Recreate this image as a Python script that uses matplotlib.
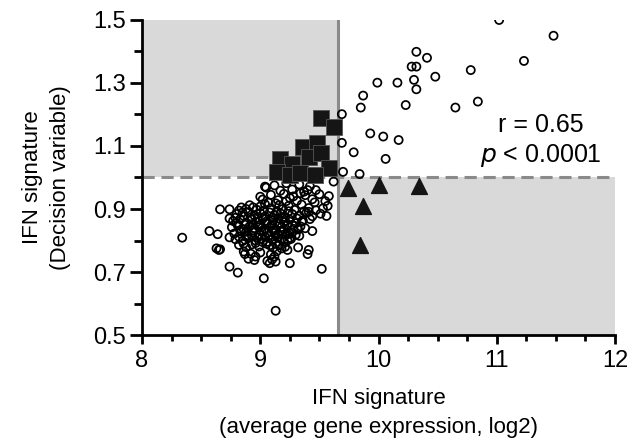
import matplotlib
matplotlib.use("Agg")
import matplotlib.pyplot as plt
from matplotlib.ticker import MultipleLocator

plt.rcParams['font.family'] = ['Liberation Sans', 'DejaVu Sans']

# ---- data ----
circ_pts = [
    # upper-right scatter
    (11.02, 1.500), (11.48, 1.450), (11.23, 1.370), (10.32, 1.399), (10.41, 1.380),
    (10.28, 1.352), (10.32, 1.352), (10.78, 1.341), (10.48, 1.320), (10.30, 1.310),
    (9.99, 1.301), (10.16, 1.301), (10.32, 1.280), (9.87, 1.260), (9.85, 1.222),
    (10.23, 1.230), (10.65, 1.222), (10.84, 1.241), (9.69, 1.201), (9.93, 1.140),
    (10.04, 1.130), (10.17, 1.119), (9.69, 1.110), (9.79, 1.080), (10.06, 1.059),
    (9.70, 1.018), (9.84, 1.011), (9.62, 0.987),
    # outliers around cluster
    (8.34, 0.809), (8.57, 0.830), (8.64, 0.820), (8.63, 0.775), (8.65, 0.770),
    (8.66, 0.772), (8.74, 0.717), (8.81, 0.698), (9.03, 0.680), (9.13, 0.577),
    (9.52, 0.710), (9.25, 0.728), (9.08, 0.728), (9.06, 0.735), (9.12, 0.749),
    (8.96, 0.749), (8.87, 0.757), (9.23, 0.770), (9.32, 0.778), (9.41, 0.770),
    (9.40, 0.757), (9.44, 0.830), (9.38, 0.839), (8.66, 0.899), (8.74, 0.899),
    (9.00, 0.939), (9.04, 0.971), (9.46, 0.921), (9.53, 0.902), (9.56, 0.878),
    (9.58, 0.941), (8.74, 0.870), (8.74, 0.810), (9.25, 0.808), (9.35, 0.860),
    (9.41, 0.891), (9.19, 0.828),
    # dense cluster
    (9.05, 0.968), (9.12, 0.975), (9.17, 0.958), (9.22, 0.982), (9.27, 0.962),
    (9.33, 0.978), (9.37, 0.955), (9.42, 0.972), (9.47, 0.960),
    (9.02, 0.930), (9.09, 0.945), (9.15, 0.928), (9.20, 0.948), (9.25, 0.935),
    (9.31, 0.926), (9.38, 0.944), (9.44, 0.931), (9.50, 0.947), (9.55, 0.925),
    (8.84, 0.905), (8.91, 0.912), (8.97, 0.898), (9.04, 0.915), (9.09, 0.902),
    (9.13, 0.918), (9.19, 0.900), (9.24, 0.910), (9.29, 0.897), (9.35, 0.914),
    (9.41, 0.903), (9.47, 0.896), (9.57, 0.910),
    (8.80, 0.884), (8.86, 0.878), (8.90, 0.890), (8.95, 0.880), (9.00, 0.887),
    (9.04, 0.876), (9.08, 0.889), (9.12, 0.881), (9.17, 0.886), (9.21, 0.875),
    (9.27, 0.884), (9.33, 0.879), (9.39, 0.888), (9.44, 0.877), (9.51, 0.885),
    (8.77, 0.862), (8.83, 0.868), (8.88, 0.857), (8.93, 0.866), (8.97, 0.859),
    (9.02, 0.869), (9.06, 0.856), (9.11, 0.864), (9.15, 0.870), (9.20, 0.858),
    (9.25, 0.866), (9.30, 0.855), (9.36, 0.863), (9.42, 0.868),
    (8.76, 0.842), (8.81, 0.848), (8.86, 0.836), (8.91, 0.845), (8.95, 0.839),
    (9.00, 0.850), (9.04, 0.838), (9.09, 0.846), (9.13, 0.835), (9.18, 0.843),
    (9.23, 0.849), (9.28, 0.837), (9.34, 0.845),
    (8.78, 0.822), (8.84, 0.828), (8.89, 0.817), (8.94, 0.826), (8.99, 0.819),
    (9.03, 0.829), (9.08, 0.816), (9.12, 0.824), (9.17, 0.830), (9.22, 0.818),
    (9.27, 0.826), (9.33, 0.815),
    (8.79, 0.804), (8.85, 0.798), (8.90, 0.808), (8.96, 0.800), (9.01, 0.806),
    (9.06, 0.796), (9.10, 0.803), (9.15, 0.809), (9.20, 0.797), (9.26, 0.805),
    (8.82, 0.786), (8.88, 0.779), (8.93, 0.788), (8.99, 0.781), (9.05, 0.790),
    (9.11, 0.777), (9.16, 0.785), (9.21, 0.780),
    (8.86, 0.765), (8.92, 0.758), (9.00, 0.762), (9.09, 0.756), (9.14, 0.766),
    (8.90, 0.742), (8.95, 0.738), (9.10, 0.740), (9.13, 0.733),
    (8.82, 0.895), (8.88, 0.900), (8.94, 0.905), (9.00, 0.908), (9.07, 0.920),
    (9.16, 0.912), (9.22, 0.925), (9.28, 0.940), (9.34, 0.950), (9.40, 0.960),
    (8.79, 0.872), (8.85, 0.889), (8.92, 0.873), (8.98, 0.872), (9.03, 0.895),
    (9.10, 0.872), (9.14, 0.893), (9.19, 0.870), (9.24, 0.893), (9.31, 0.870),
    (9.37, 0.893),
    (8.80, 0.855), (8.87, 0.850), (8.93, 0.852), (8.99, 0.842), (9.05, 0.860),
    (9.10, 0.852), (9.16, 0.855), (9.21, 0.862), (9.27, 0.850), (9.32, 0.835),
    (8.83, 0.832), (8.88, 0.828), (8.94, 0.833), (9.01, 0.830), (9.06, 0.826),
    (9.11, 0.833), (9.15, 0.820), (9.20, 0.835), (9.25, 0.822), (9.30, 0.818),
    (8.82, 0.812), (8.88, 0.812), (8.93, 0.815), (8.98, 0.810), (9.04, 0.812),
    (9.13, 0.815), (9.18, 0.805), (9.23, 0.800),
    (8.86, 0.790), (8.96, 0.792), (9.02, 0.795), (9.08, 0.785), (9.13, 0.790),
    (9.18, 0.775),
]
circ_x = [p[0] for p in circ_pts]
circ_y = [p[1] for p in circ_pts]

square_x = [9.51, 9.62, 9.36, 9.48, 9.41, 9.51, 9.17, 9.27, 9.58, 9.14, 9.25, 9.34, 9.46]
square_y = [1.188, 1.161, 1.096, 1.109, 1.066, 1.079, 1.058, 1.043, 1.029, 1.018, 1.008, 1.013, 1.008]

tri_x = [9.745, 10.00, 10.34, 9.87, 9.84]
tri_y = [0.966, 0.976, 0.973, 0.910, 0.786]

x_cut = 9.66
y_cut = 1.0
xlim = (8, 12)
ylim = (0.5, 1.5)
ytick_labels = [0.5, 0.7, 0.9, 1.1, 1.3, 1.5]
xtick_labels = [8, 9, 10, 11, 12]

# ---- figure ----
fig = plt.figure(figsize=(6.38, 4.48), dpi=100)
ax = fig.add_axes([0.2226, 0.2522, 0.7414, 0.7032])

ax.fill_between([xlim[0], x_cut], y_cut, ylim[1], color='#d9d9d9', lw=0, zorder=0)
ax.fill_between([x_cut, xlim[1]], ylim[0], y_cut, color='#d9d9d9', lw=0, zorder=0)
ax.axvline(x_cut, color='#8a8a8a', lw=2.2, zorder=1)
ax.axhline(y_cut, color='#8a8a8a', lw=2.2, ls=(0, (4, 2.2)), zorder=1)

ax.scatter(circ_x, circ_y, s=34, facecolors='none', edgecolors='black', linewidths=1.25, zorder=3)
ax.scatter(square_x, square_y, s=120, marker='s', color='#151515', edgecolors='#555555', linewidths=0.6, zorder=4)
ax.scatter(tri_x, tri_y, s=130, marker='^', color='#151515', zorder=4)

ax.set_xlim(*xlim)
ax.set_ylim(*ylim)
ax.set_xticks(xtick_labels)
ax.set_yticks(ytick_labels)
ax.set_yticklabels([f"{v:.1f}" for v in ytick_labels])
ax.xaxis.set_minor_locator(MultipleLocator(0.25))
ax.yaxis.set_minor_locator(MultipleLocator(0.1))

for s in ['top', 'right']:
    ax.spines[s].set_visible(False)
for s in ['left', 'bottom']:
    ax.spines[s].set_linewidth(2.0)
    ax.spines[s].set_zorder(5)

ax.tick_params(axis='both', which='major', length=8.5, width=2, labelsize=17, pad=3)
ax.tick_params(axis='both', which='minor', length=5.5, width=2)
ax.tick_params(axis='x', which='major', length=6.5, pad=4)
ax.tick_params(axis='x', which='minor', length=4.5)

ax.set_xlabel("IFN signature\n(average gene expression, log2)", fontsize=16, labelpad=12, linespacing=1.5)
ax.set_ylabel("IFN signature\n(Decision variable)", fontsize=16, labelpad=16, linespacing=1.45)

ax.text(11.37, 1.167, "r = 0.65", fontsize=18, ha='center', va='center', zorder=6)
ax.text(11.37, 1.071, r"$p$ < 0.0001", fontsize=18, ha='center', va='center', zorder=6)

fig.savefig("out.png", dpi=100)
